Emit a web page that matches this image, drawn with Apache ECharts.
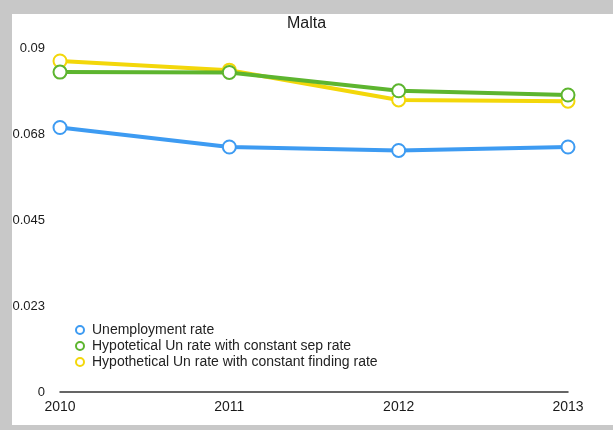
<!DOCTYPE html>
<html>
<head>
<meta charset="utf-8">
<script src="https://cdn.jsdelivr.net/npm/echarts@6/dist/echarts.min.js"></script>
<style>
  html, body { margin: 0; padding: 0; background: #c8c8c8; }
  #chart { width: 613px; height: 430px; }
</style>
</head>
<body>
<div id="chart"></div>
<script>
// Malta: actual vs. hypothetical unemployment rates
const years = ['2010', '2011', '2012', '2013'];
const unemploymentRate = [0.0692, 0.0641, 0.0632, 0.0641];
const constSepRate = [0.0837, 0.0836, 0.0788, 0.0777];
const constFindingRate = [0.0866, 0.0842, 0.0764, 0.0761];
const yTickLabels = ['0', '0.023', '0.045', '0.068', '0.09'];

const names = [
  'Unemployment rate',
  'Hypotetical Un rate with constant sep rate',
  'Hypothetical Un rate with constant finding rate'
];
const colors = ['#3d9bf2', '#5db52f', '#f3d70a'];

const font = 'Liberation Sans, Arial, Helvetica, sans-serif';

function lineSeries(name, data, color, z) {
  return {
    name: name,
    type: 'line',
    data: data,
    z: z,
    symbol: 'emptyCircle',
    symbolSize: 13,
    showAllSymbol: true,
    lineStyle: { width: 4, color: color },
    itemStyle: { color: color, borderColor: color, borderWidth: 3.5 },
    emphasis: { disabled: true }
  };
}

const chart = echarts.init(document.getElementById('chart'));
chart.setOption({
  backgroundColor: '#c8c8c8',
  animation: false,
  graphic: [{
    type: 'rect',
    z: -10,
    silent: true,
    shape: { x: 12, y: 14, width: 601, height: 411 },
    style: { fill: '#ffffff' }
  }],
  title: {
    text: 'Malta',
    left: 'center',
    top: 11,
    textStyle: { fontFamily: font, fontSize: 16, fontWeight: 'normal', color: '#1a1a1a' }
  },
  legend: {
    orient: 'vertical',
    left: 70,
    top: 317,
    itemGap: 0,
    itemWidth: 8,
    itemHeight: 8,
    icon: 'emptyCircle',
    data: names,
    textStyle: {
      fontFamily: font, fontSize: 14, color: '#222',
      lineHeight: 16, padding: [0, 0, 0, 3]
    },
    itemStyle: { borderWidth: 1.5 }
  },
  grid: { left: 60, right: 45, top: 48, bottom: 38 },
  xAxis: {
    type: 'category',
    data: years,
    boundaryGap: false,
    axisLine: { lineStyle: { color: '#333', width: 1.5 } },
    axisTick: { show: false },
    axisLabel: { fontFamily: font, fontSize: 14, color: '#1a1a1a', margin: 8 }
  },
  yAxis: {
    type: 'value',
    min: 0,
    max: 0.09,
    interval: 0.0225,
    axisLine: { show: false },
    axisTick: { show: false },
    splitLine: { show: false },
    axisLabel: {
      fontFamily: font, fontSize: 13, color: '#1a1a1a', margin: 15,
      formatter: function (v) {
        return yTickLabels[Math.round(v / 0.0225)];
      }
    }
  },
  series: [
    lineSeries(names[2], constFindingRate, colors[2], 2),
    lineSeries(names[1], constSepRate, colors[1], 3),
    lineSeries(names[0], unemploymentRate, colors[0], 4)
  ]
});
</script>
</body>
</html>
